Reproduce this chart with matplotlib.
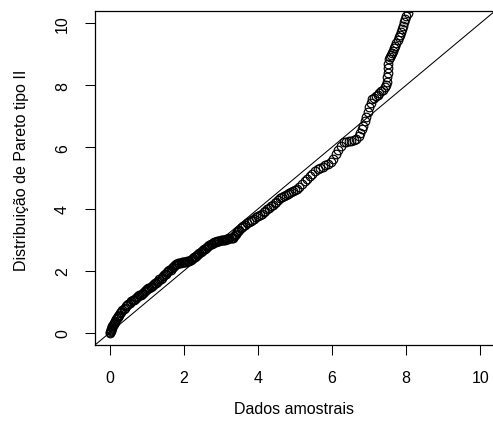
import matplotlib
matplotlib.use("Agg")
import matplotlib.pyplot as plt

# sample quantiles (x) vs theoretical Pareto II quantiles (y)
amostra = [0.00, 0.01, 0.02, 0.03, 0.04, 0.05, 0.06, 0.07, 0.08, 0.10, 0.11, 0.13, 0.15, 0.17,
           0.19, 0.21, 0.23, 0.25, 0.28, 0.31, 0.34, 0.37, 0.40, 0.43, 0.46, 0.50, 0.54, 0.58, 0.62,
           # 0.65 - 2.15
           0.65, 0.68, 0.71, 0.74, 0.77, 0.80, 0.83, 0.86, 0.89, 0.92, 0.95, 0.98, 1.01, 1.04,
           1.07, 1.10, 1.13, 1.16, 1.19, 1.22, 1.25, 1.28, 1.31, 1.34, 1.37, 1.40, 1.43, 1.46,
           1.49, 1.52, 1.55, 1.58, 1.61, 1.64, 1.67, 1.70, 1.73, 1.76, 1.79, 1.82, 1.85, 1.88,
           1.91, 1.94, 1.97, 2.00, 2.03, 2.06, 2.09, 2.12, 2.15,
           # 2.18 - 3.59
           2.18, 2.21, 2.24, 2.27, 2.30, 2.33, 2.36, 2.39, 2.42, 2.45, 2.48, 2.51, 2.54, 2.57,
           2.60, 2.63, 2.66, 2.69, 2.72, 2.75, 2.78, 2.81, 2.84, 2.87, 2.90, 2.93, 2.96, 2.99,
           3.02, 3.05, 3.08, 3.11, 3.14, 3.17, 3.20, 3.23, 3.26, 3.29, 3.32, 3.35, 3.38, 3.41,
           3.44, 3.47, 3.50, 3.53, 3.56, 3.59,
           # 3.65 - 5.05
           3.65, 3.70, 3.75, 3.80, 3.85, 3.90, 3.95, 4.00, 4.05, 4.10, 4.15, 4.20, 4.25, 4.30,
           4.35, 4.40, 4.45, 4.50, 4.55, 4.60, 4.65, 4.70, 4.75, 4.80, 4.85, 4.90, 4.95, 5.00,
           5.05,
           # 5.12 - 6.66
           5.12, 5.19, 5.26, 5.33, 5.40, 5.47, 5.54, 5.61, 5.68, 5.75, 5.82, 5.89, 5.96, 6.03,
           6.10, 6.17, 6.24, 6.31, 6.38, 6.45, 6.52, 6.59, 6.66,
           # upper tail
           6.72, 6.76, 6.80, 6.84, 6.88, 6.92, 6.96, 7.00, 7.04, 7.08, 7.13, 7.18, 7.23, 7.28,
           7.33, 7.38, 7.42, 7.45, 7.48, 7.49, 7.50, 7.51, 7.52, 7.53, 7.56, 7.59, 7.62, 7.65,
           7.68, 7.71, 7.74, 7.77, 7.80, 7.83, 7.86, 7.89, 7.92, 7.95, 7.98, 8.01, 8.04, 8.08,
           8.15, 8.25, 8.40]
teorico = [0.00, 0.03, 0.06, 0.09, 0.12, 0.15, 0.18, 0.21, 0.24, 0.28, 0.31, 0.35, 0.39, 0.43,
           0.47, 0.51, 0.55, 0.58, 0.63, 0.68, 0.72, 0.77, 0.81, 0.85, 0.89, 0.93, 0.97, 1.01, 1.04,
           1.07, 1.10, 1.12, 1.15, 1.18, 1.21, 1.23, 1.26, 1.29, 1.32, 1.34, 1.37, 1.40, 1.43,
           1.45, 1.48, 1.51, 1.54, 1.56, 1.59, 1.62, 1.65, 1.68, 1.72, 1.75, 1.78, 1.82, 1.85,
           1.88, 1.91, 1.95, 1.98, 2.01, 2.04, 2.08, 2.11, 2.14, 2.18, 2.21, 2.23, 2.24, 2.25,
           2.26, 2.27, 2.28, 2.29, 2.29, 2.30, 2.31, 2.32, 2.32,
           2.35, 2.38, 2.40, 2.43, 2.46, 2.49, 2.52, 2.55, 2.57, 2.60, 2.63, 2.66, 2.69, 2.71,
           2.74, 2.77, 2.80, 2.83, 2.86, 2.88, 2.91, 2.92, 2.93, 2.94, 2.95, 2.96, 2.97, 2.98,
           2.98, 2.99, 3.00, 3.01, 3.02, 3.03, 3.04, 3.05, 3.06, 3.06, 3.07, 3.11, 3.15, 3.20,
           3.24, 3.28, 3.32, 3.37, 3.41, 3.45,
           3.49, 3.53, 3.57, 3.61, 3.65, 3.69, 3.73, 3.77, 3.81, 3.85, 3.89, 3.94, 3.99, 4.04,
           4.09, 4.14, 4.19, 4.24, 4.29, 4.34, 4.39, 4.43, 4.46, 4.49, 4.52, 4.55, 4.58, 4.61,
           4.64,
           4.72, 4.80, 4.89, 4.97, 5.05, 5.14, 5.22, 5.29, 5.33, 5.37, 5.42, 5.46, 5.51, 5.63,
           5.76, 5.89, 6.02, 6.15, 6.17, 6.19, 6.21, 6.23, 6.25,
           6.36, 6.47, 6.58, 6.69, 6.83, 6.98, 7.13, 7.29, 7.44, 7.55, 7.60, 7.65, 7.70, 7.75,
           7.80, 7.85, 7.93, 8.02, 8.11, 8.25, 8.40, 8.55, 8.70, 8.84, 8.91, 8.98, 9.05, 9.12,
           9.20, 9.27, 9.36, 9.46, 9.55, 9.64, 9.73, 9.83, 9.93, 10.03, 10.13, 10.23, 10.33, 10.5,
           10.8, 11.2, 11.7]

ticks = [0, 2, 4, 6, 8, 10]

plt.rcParams['font.family'] = ['Liberation Sans', 'DejaVu Sans']

fig = plt.figure(figsize=(4.93, 4.31), dpi=100)
# R's plot box: x and y limits run 4% past 0 and 10; the right edge lies just past the image
ax = fig.add_axes([95 / 493, 1 - 346 / 431, 400 / 493, 334 / 431])

ax.plot(amostra, teorico, 'o', mfc='none', mec='black', ms=6.2, mew=0.85)
ax.axline((0, 0), slope=1, color='black', lw=0.75)

ax.set_xlim(-0.4, 10.4)
ax.set_ylim(-0.4, 10.4)
ax.set_xticks(ticks)
ax.set_yticks(ticks)
ax.set_yticklabels([str(t) for t in ticks], rotation=90, va='center')
ax.tick_params(direction='out', length=7, width=0.75, labelsize=11.5, pad=11)
for s in ax.spines.values():
    s.set_linewidth(0.9)
ax.spines['right'].set_visible(False)

fig.text(294 / 493, 1 - 410 / 431, 'Dados amostrais', ha='center', va='center', fontsize=11.5)
fig.text(22 / 493, 1 - 170 / 431, 'Distribuição de Pareto tipo II', ha='center', va='center',
         rotation=90, fontsize=11.5)

fig.savefig('out.png', dpi=100)
